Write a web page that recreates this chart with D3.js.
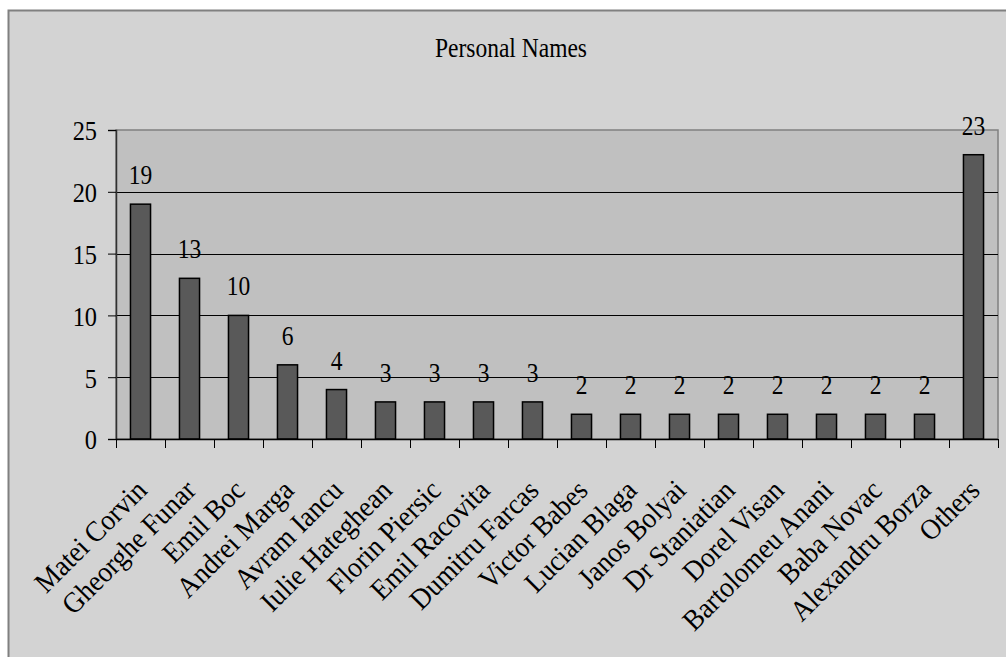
<!DOCTYPE html>
<html>
<head>
<meta charset="utf-8">
<script src="https://cdn.jsdelivr.net/npm/d3@7"></script>
<style>
  html, body { margin: 0; padding: 0; background: #ffffff; }
  svg { display: block; }
  text { font-family: "Liberation Serif", "Times New Roman", serif; fill: #000; }
</style>
</head>
<body>
<svg id="chart" width="1006" height="657"></svg>
<script>
// Personal names and how often each one occurs
const categories = [
  "Matei Corvin", "Gheorghe Funar", "Emil Boc", "Andrei Marga", "Avram Iancu",
  "Iulie Hateghean", "Florin Piersic", "Emil Racovita", "Dumitru Farcas",
  "Victor Babes", "Lucian Blaga", "Janos Bolyai", "Dr Staniatian", "Dorel Visan",
  "Bartolomeu Anani", "Baba Novac", "Alexandru Borza", "Others"
];
const counts = [19, 13, 10, 6, 4, 3, 3, 3, 3, 2, 2, 2, 2, 2, 2, 2, 2, 23];
const yTicks = [0, 5, 10, 15, 20, 25];
const chartTitle = "Personal Names";

const svg = d3.select("#chart");
const W = 1006, H = 657;
const plot = { left: 116, right: 998, top: 130, bottom: 439 };
const squeeze = 0.87; // narrow, tall lettering

// outer chart area
svg.append("rect")
  .attr("x", 8.5).attr("y", 10.5)
  .attr("width", W + 20).attr("height", H + 20)
  .attr("fill", "#d3d3d3")
  .attr("stroke", "#808080").attr("stroke-width", 2);

// title
svg.append("text")
  .attr("transform", `translate(511,57) scale(${squeeze},1)`)
  .attr("text-anchor", "middle")
  .attr("font-size", 27)
  .text(chartTitle);

const x = d3.scaleBand()
  .domain(categories)
  .range([plot.left, plot.right])
  .paddingInner(0.59).paddingOuter(0.295);

const y = d3.scaleLinear()
  .domain([0, 25])
  .range([plot.bottom, plot.top]);

// plot area background
svg.append("rect")
  .attr("x", plot.left).attr("y", plot.top)
  .attr("width", plot.right - plot.left)
  .attr("height", plot.bottom - plot.top)
  .attr("fill", "#c0c0c0")
  .attr("stroke", "#808080").attr("stroke-width", 1.5);

// horizontal gridlines
svg.append("g")
  .selectAll("line")
  .data(yTicks.filter(t => t > 0 && t < 25))
  .join("line")
  .attr("x1", plot.left).attr("x2", plot.right)
  .attr("y1", d => Math.round(y(d)) + 0.5)
  .attr("y2", d => Math.round(y(d)) + 0.5)
  .attr("stroke", "#000").attr("stroke-width", 1);

// y axis
const yAxis = d3.axisLeft(y).tickValues(yTicks).tickSize(8).tickPadding(11);
const gy = svg.append("g")
  .attr("transform", `translate(${plot.left},0)`)
  .call(yAxis);
gy.select(".domain").attr("stroke", "#303030").attr("stroke-width", 1.5);
gy.selectAll(".tick line").attr("stroke", "#000");
gy.selectAll(".tick text")
  .attr("font-size", 28)
  .attr("font-family", "Liberation Serif, Times New Roman, serif")
  .attr("fill", "#000")
  .attr("x", null)
  .attr("dy", "0.35em")
  .attr("transform", `translate(-19,0) scale(${squeeze},1)`);

// bars
svg.append("g")
  .selectAll("rect")
  .data(categories)
  .join("rect")
  .attr("x", d => x(d))
  .attr("y", (d, i) => y(counts[i]))
  .attr("width", x.bandwidth())
  .attr("height", (d, i) => y(0) - y(counts[i]))
  .attr("fill", "#595959")
  .attr("stroke", "#000").attr("stroke-width", 1.5);

// value labels
svg.append("g")
  .selectAll("text")
  .data(categories)
  .join("text")
  .attr("transform", (d, i) =>
    `translate(${x(d) + x.bandwidth() / 2},${y(counts[i]) - 20}) scale(${squeeze},1)`)
  .attr("text-anchor", "middle")
  .attr("font-size", 27)
  .text((d, i) => counts[i]);

// x axis line and ticks at band boundaries
const step = x.step();
const boundaries = d3.range(categories.length + 1).map(i => plot.left + i * step);
svg.append("line")
  .attr("x1", plot.left).attr("x2", plot.right)
  .attr("y1", plot.bottom + 0.5).attr("y2", plot.bottom + 0.5)
  .attr("stroke", "#000").attr("stroke-width", 1.5);
svg.append("g")
  .selectAll("line")
  .data(boundaries)
  .join("line")
  .attr("x1", d => Math.round(d) + 0.5).attr("x2", d => Math.round(d) + 0.5)
  .attr("y1", plot.bottom).attr("y2", plot.bottom + 9)
  .attr("stroke", "#000").attr("stroke-width", 1);

// category labels, rotated
svg.append("g")
  .selectAll("text")
  .data(categories)
  .join("text")
  .attr("transform", d =>
    `translate(${x(d) + x.bandwidth() / 2 + 8},492) rotate(-45) scale(0.93,1)`)
  .attr("text-anchor", "end")
  .attr("font-size", 29)
  .text(d => d);
</script>
</body>
</html>
